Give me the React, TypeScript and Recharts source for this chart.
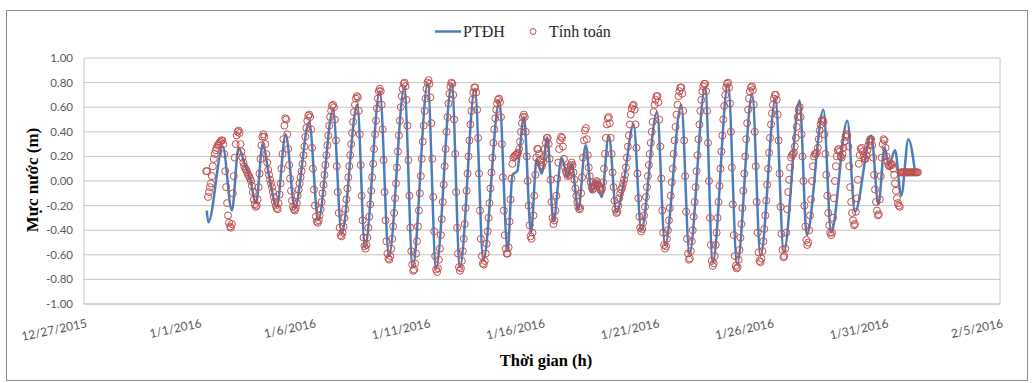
import React from 'react';
import { ComposedChart, Line, Scatter, XAxis, YAxis, CartesianGrid, ReferenceLine } from 'recharts';

// x axis: hours since 1/1/2016 00:00
const xTickHours = [-120, 0, 120, 240, 360, 480, 600, 720, 840];
const xTickLabels = ['12/27/2015', '1/1/2016', '1/6/2016', '1/11/2016', '1/16/2016', '1/21/2016', '1/26/2016', '1/31/2016', '2/5/2016'];
const yTicks = [-1, -0.8, -0.6, -0.4, -0.2, 0, 0.2, 0.4, 0.6, 0.8, 1];

// PTĐH (observed) – turning points of the curve
const lineHours = [8.6, 10.3, 25.5, 35, 42, 49, 54, 60.3, 67.3, 74, 82, 91.4, 101, 116, 125.5, 141, 150, 166.4, 174.5, 190, 199.6, 215.7, 224.5, 240.2, 249, 265.4, 274, 289.7, 298.5, 315.3, 324, 329, 334, 341, 348.5, 354.4, 359.7, 365.6, 372, 380.6, 387, 391, 398, 405.8, 412, 417, 422.5, 430, 438, 445, 456, 464, 480.5, 489, 506, 514.5, 531, 539, 555, 564.5, 580.3, 589, 604.7, 613.4, 630, 637.5, 654.9, 663, 680, 688, 705, 712.6, 719, 723.6, 730, 736.5, 744, 751];
const lineLevels = [-0.24, -0.335, 0.28, -0.24, 0.27, 0.12, 0.02, -0.18, 0.30, 0.04, -0.21, 0.38, -0.22, 0.48, -0.32, 0.58, -0.43, 0.62, -0.54, 0.73, -0.61, 0.76, -0.70, 0.79, -0.71, 0.79, -0.70, 0.75, -0.645, 0.65, -0.565, 0.05, 0.08, 0.52, -0.42, 0.18, 0.06, 0.355, -0.33, 0.19, 0.03, 0.14, -0.23, 0.29, -0.09, 0.0, -0.13, 0.37, -0.255, -0.04, 0.46, -0.40, 0.56, -0.52, 0.62, -0.59, 0.76, -0.66, 0.79, -0.68, 0.71, -0.61, 0.665, -0.58, 0.655, -0.44, 0.58, -0.42, 0.49, -0.25, 0.37, -0.19, 0.27, 0.13, 0.25, -0.12, 0.34, 0.07];

// Tính toán (computed) – hourly values
const calcStartA = 8;
const calcA = [
  0.08, 0.08, -0.13, -0.09, -0.05, -0.02, 0.04, 0.12, 0.18, 0.22,
  0.25, 0.27, 0.29, 0.30, 0.31, 0.32, 0.33, 0.33, 0.30, 0.22,
  0.08, -0.05, -0.18, -0.28, -0.34, -0.37, -0.38, -0.35, -0.10, 0.04,
  0.19, 0.30, 0.37, 0.40, 0.41, 0.39, 0.30, 0.24, 0.19, 0.15,
  0.12, 0.10, 0.09, 0.07, 0.05, 0.04, 0.02, 0.00, -0.04, -0.09,
  -0.15, -0.19, -0.21, -0.20, -0.15, -0.05, 0.06, 0.18, 0.29, 0.36,
  0.38, 0.36, 0.30, 0.22, 0.15, 0.09, 0.05, 0.01, -0.02, -0.05,
  -0.09, -0.13, -0.17, -0.20, -0.22, -0.23, -0.18, -0.11, -0.02, 0.10,
  0.22, 0.34, 0.45, 0.51, 0.50, 0.38, 0.26, 0.13, 0.02, -0.08,
  -0.16, -0.21, -0.23, -0.24, -0.22, -0.18, -0.12, -0.07, -0.02, 0.03,
  0.08, 0.14, 0.21, 0.28, 0.36, 0.43, 0.49, 0.53, 0.54, 0.52,
  0.42, 0.27, 0.10, -0.07, -0.20, -0.29, -0.33, -0.34, -0.32, -0.28,
  -0.23, -0.17, -0.10, -0.03, 0.05, 0.13, 0.21, 0.29, 0.37, 0.45,
  0.52, 0.57, 0.61, 0.62, 0.60, 0.50, 0.33, 0.12, -0.09, -0.26,
  -0.38, -0.44, -0.45, -0.42, -0.37, -0.30, -0.23, -0.15, -0.06, 0.03,
  0.12, 0.21, 0.30, 0.39, 0.48, 0.56, 0.62, 0.67, 0.69, 0.68,
  0.57, 0.38, 0.13, -0.12, -0.32, -0.46, -0.53, -0.55, -0.52, -0.46,
  -0.38, -0.29, -0.19, -0.08, 0.03, 0.14, 0.26, 0.38, 0.49, 0.59,
  0.67, 0.73, 0.75, 0.73, 0.62, 0.42, 0.17, -0.09, -0.32, -0.49,
  -0.59, -0.63,
];
const calcStartB = 200;
const calcB = [
  -0.64, -0.61, -0.55, -0.47, -0.37, -0.26, -0.14, -0.02, 0.11, 0.24,
  0.37, 0.49, 0.60, 0.69, 0.75, 0.79, 0.80, 0.77, 0.66, 0.45,
  0.17, -0.12, -0.38, -0.57, -0.68, -0.73, -0.72, -0.67, -0.59, -0.49,
  -0.37, -0.24, -0.10, 0.04, 0.18, 0.32, 0.45, 0.57, 0.67, 0.75,
  0.80, 0.82, 0.79, 0.68, 0.47, 0.18, -0.13, -0.41, -0.61, -0.72,
  -0.74, -0.71, -0.64, -0.55, -0.44, -0.31, -0.17, -0.03, 0.12, 0.26,
  0.40, 0.52, 0.63, 0.71, 0.77, 0.80, 0.79, 0.70, 0.50, 0.22,
  -0.09, -0.38, -0.59, -0.70, -0.73, -0.71, -0.65, -0.57, -0.47, -0.35,
  -0.22, -0.08, 0.06, 0.20, 0.33, 0.46, 0.57, 0.66, 0.72, 0.76,
  0.76, 0.72, 0.58, 0.35, 0.06, -0.24, -0.47, -0.61, -0.67, -0.68,
  -0.65, -0.59, -0.51, -0.41, -0.30, -0.18, -0.06, 0.07, 0.19, 0.31,
  0.42, 0.51, 0.58, 0.63, 0.66, 0.67, 0.64, 0.52, 0.30, 0.03,
  -0.24, -0.44, -0.55, -0.59, -0.59, -0.54, -0.33, -0.15, 0.02, 0.14,
  0.19, 0.20, 0.21, 0.21, 0.22, 0.23, 0.26, 0.32, 0.40, 0.47,
  0.52, 0.54, 0.52, 0.40, 0.20, 0.00, -0.20, -0.36, -0.45, -0.47,
  -0.42, -0.28, -0.12, 0.05, 0.19, 0.26, 0.26, 0.22, 0.17, 0.13,
  0.12, 0.15, 0.20, 0.26, 0.31, 0.35, 0.35, 0.30, 0.18, 0.01,
  -0.17, -0.30, -0.35, -0.32, -0.24, -0.12, 0.02, 0.15, 0.26, 0.33,
  0.36, 0.35, 0.28, 0.18, 0.11, 0.08, 0.06, 0.04, 0.05, 0.09,
  0.13, 0.15, 0.13, 0.07, 0.01, -0.06, -0.12, -0.17, -0.21, -0.23,
];
const calcStartC = 400;
const calcC = [
  -0.22, -0.10, 0.03, 0.19, 0.33, 0.41, 0.43, 0.34, 0.21, 0.11,
  0.04, -0.01, -0.05, -0.07, -0.06, -0.04, -0.02, 0.00, -0.01, -0.03,
  -0.05, -0.07, -0.08, -0.06, -0.01, 0.10, 0.22, 0.35, 0.46, 0.51,
  0.52, 0.47, 0.35, 0.22, 0.07, -0.05, -0.16, -0.23, -0.26, -0.25,
  -0.20, -0.14, -0.10, -0.07, -0.05, -0.02, 0.01, 0.05, 0.11, 0.19,
  0.28, 0.37, 0.46, 0.54, 0.59, 0.61, 0.62, 0.58, 0.46, 0.27,
  0.06, -0.14, -0.29, -0.38, -0.41, -0.39, -0.34, -0.28, -0.21, -0.13,
  -0.05, 0.04, 0.13, 0.22, 0.31, 0.40, 0.48, 0.56, 0.62, 0.66,
  0.69, 0.69, 0.64, 0.50, 0.28, 0.02, -0.24, -0.42, -0.52, -0.55,
  -0.53, -0.47, -0.40, -0.32, -0.22, -0.12, -0.01, 0.10, 0.22, 0.33,
  0.44, 0.54, 0.62, 0.69, 0.73, 0.76, 0.76, 0.71, 0.57, 0.33,
  0.04, -0.25, -0.47, -0.59, -0.64, -0.63, -0.57, -0.49, -0.40, -0.29,
  -0.17, -0.05, 0.08, 0.21, 0.34, 0.46, 0.57, 0.66, 0.73, 0.77,
  0.79, 0.79, 0.73, 0.57, 0.31, 0.00, -0.30, -0.52, -0.65, -0.69,
  -0.67, -0.61, -0.52, -0.42, -0.30, -0.17, -0.04, 0.10, 0.24, 0.37,
  0.50, 0.61, 0.70, 0.76, 0.79, 0.80, 0.76, 0.63, 0.40, 0.11,
  -0.19, -0.44, -0.61, -0.69, -0.71, -0.70, -0.64, -0.56, -0.46, -0.35,
  -0.22, -0.08, 0.06, 0.20, 0.34, 0.47, 0.58, 0.67, 0.73, 0.76,
  0.77, 0.74, 0.62, 0.40, 0.12, -0.17, -0.42, -0.58, -0.65, -0.66,
  -0.63, -0.57, -0.49, -0.39, -0.28, -0.16, -0.03, 0.10, 0.23, 0.35,
];
const calcStartD = 600;
const calcD = [
  0.46, 0.55, 0.62, 0.67, 0.70, 0.70, 0.66, 0.54, 0.33, 0.06,
  -0.21, -0.43, -0.56, -0.62, -0.61, -0.55, -0.42, -0.23, -0.09, 0.01,
  0.11, 0.19, 0.21, 0.22, 0.23, 0.28, 0.35, 0.44, 0.52, 0.58,
  0.60, 0.52, 0.38, 0.20, 0.00, -0.20, -0.37, -0.48, -0.52, -0.50,
  -0.40, -0.28, -0.15, 0.00, 0.12, 0.20, 0.22, 0.22, 0.23, 0.27,
  0.34, 0.41, 0.46, 0.49, 0.50, 0.48, 0.38, 0.22, 0.05, -0.12,
  -0.26, -0.36, -0.42, -0.44, -0.42, -0.30, -0.14, 0.00, 0.12, 0.20,
  0.25, 0.26, 0.24, 0.20, 0.19, 0.22, 0.27, 0.32, 0.36, 0.38,
  0.37, 0.28, 0.12, -0.05, -0.17, -0.26, -0.32, -0.36, -0.35, -0.25,
  -0.14, 0.01, 0.14, 0.21, 0.26, 0.27, 0.24, 0.20, 0.18, 0.18,
  0.21, 0.25, 0.29, 0.32, 0.34, 0.34, 0.29, 0.19, 0.05, -0.07,
  -0.17, -0.24, -0.28, -0.27, -0.15, 0.04, 0.19, 0.30, 0.34, 0.33,
  0.27, 0.20, 0.16, 0.13, 0.12, 0.13, 0.14, 0.13, 0.10, 0.05,
  -0.02, -0.08, -0.14, -0.18, -0.20, -0.21, 0.07, 0.07, 0.07, 0.07,
  0.07, 0.07, 0.07, 0.07, 0.07, 0.07, 0.07, 0.07, 0.07, 0.07,
  0.07, 0.07, 0.07, 0.07, 0.07,
];

const lineData = lineHours.map((h, i) => ({ h, v: lineLevels[i] }));
const calcSegments: [number, number[]][] = [
  [calcStartA, calcA],
  [calcStartB, calcB],
  [calcStartC, calcC],
  [calcStartD, calcD],
];
const calcData = calcSegments.flatMap(([start, arr]) => arr.map((v, i) => ({ h: start + i, v })));

const BLUE = '#4A7EBB';
const RED = '#C0504D';
const GRID = '#C4C4C4';

const XTick = (props: any) => {
  const { x, y, payload } = props;
  const i = xTickHours.indexOf(payload.value);
  const ax = x + 3.5;
  const ay = y + 15;
  return (
    <text x={ax} y={ay} transform={`rotate(-12, ${ax}, ${ay})`} textAnchor="end" fontFamily="Lato" fontSize={12} fill="#595959">
      {xTickLabels[i]}
    </text>
  );
};

const CircleShape = (p: any) => (
  <circle cx={p.cx} cy={p.cy} r={3.5} fill="none" stroke={RED} strokeWidth={1} />
);

export default function App() {
  return (
    <div style={{ position: 'absolute', left: 0, top: 0, width: 1033, height: 383, background: '#fff' }}>
      <div style={{ position: 'absolute', left: 6, top: 10, width: 1020, height: 369, border: '1px solid #8c8c8c' }} />
      <div style={{ position: 'absolute', left: 0, top: 0 }}>
        <ComposedChart width={1033} height={383} margin={{ top: 58, right: 33, bottom: 39, left: 24 }}>
          <CartesianGrid vertical={false} stroke={GRID} />
          <XAxis
            dataKey="h"
            type="number"
            domain={[-120, 840]}
            ticks={xTickHours}
            tick={<XTick />}
            tickLine={false}
            axisLine={{ stroke: GRID }}
            height={40}
            interval={0}
            allowDataOverflow
          />
          <YAxis
            type="number"
            domain={[-1, 1]}
            ticks={yTicks}
            tickFormatter={(v: number) => v.toFixed(2)}
            tick={{ fontFamily: 'Lato', fontSize: 11.5, fill: '#595959' }}
            tickLine={false}
            tickMargin={5}
            axisLine={{ stroke: GRID }}
            width={60}
            interval={0}
            allowDataOverflow
          />
          <ReferenceLine x={840} stroke={GRID} />
          <Line
            data={lineData}
            dataKey="v"
            type="monotone"
            stroke={BLUE}
            strokeWidth={2.5}
            dot={false}
            isAnimationActive={false}
          />
          <Scatter data={calcData} dataKey="v" shape={CircleShape} isAnimationActive={false} />
        </ComposedChart>
      </div>
      <svg width={1033} height={383} style={{ position: 'absolute', left: 0, top: 0, pointerEvents: 'none' }}>
        <line x1={435} y1={31.5} x2={461} y2={31.5} stroke={BLUE} strokeWidth={2.5} />
        <text x={463} y={37} fontFamily="Liberation Serif" fontSize={16} fill="#262626">PTĐH</text>
        <circle cx={533} cy={31.5} r={3} fill="none" stroke={RED} strokeWidth={1} />
        <text x={549} y={37} fontFamily="Liberation Serif" fontSize={16} fill="#262626">Tính toán</text>
        <text x={38} y={180} transform="rotate(-90, 38, 180)" textAnchor="middle" fontFamily="Liberation Serif" fontWeight="bold" fontSize={17} fill="#000">Mực nước (m)</text>
        <text x={546} y={366} textAnchor="middle" fontFamily="Liberation Serif" fontWeight="bold" fontSize={16.5} fill="#000">Thời gian (h)</text>
      </svg>
    </div>
  );
}
